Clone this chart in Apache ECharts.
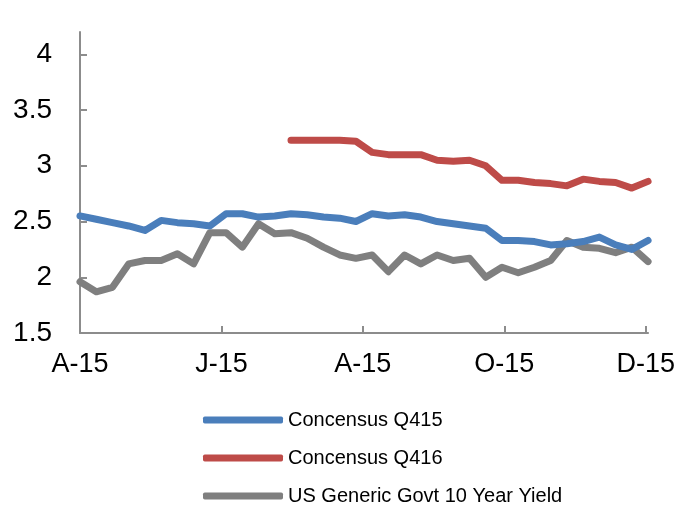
<!DOCTYPE html>
<html>
<head>
<meta charset="utf-8">
<script src="https://cdn.jsdelivr.net/npm/echarts@6/dist/echarts.min.js"></script>
<style>html,body{margin:0;padding:0;background:#fff;}#c{width:678px;height:509px;}</style>
</head>
<body>
<div id="c"></div>
<script>
// Weekly observation dates
const dates = ['2015-04-01','2015-04-08','2015-04-15','2015-04-22','2015-04-29',
  '2015-05-06','2015-05-13','2015-05-20','2015-05-27',
  '2015-06-03','2015-06-10','2015-06-17','2015-06-24',
  '2015-07-01','2015-07-08','2015-07-15','2015-07-22','2015-07-29',
  '2015-08-05','2015-08-12','2015-08-19','2015-08-26',
  '2015-09-02','2015-09-09','2015-09-16','2015-09-23','2015-09-30',
  '2015-10-07','2015-10-14','2015-10-21','2015-10-28',
  '2015-11-04','2015-11-11','2015-11-18','2015-11-25','2015-12-02'];

const consensusQ415 = [2.55,2.52,2.49,2.46,2.42,2.51,2.49,2.48,2.46,2.57,2.57,2.54,2.55,2.57,2.56,2.54,2.53,2.50,
  2.57,2.55,2.56,2.54,2.50,2.48,2.46,2.44,2.33,2.33,2.32,2.29,2.30,2.32,2.36,2.29,2.25,2.33];

const consensusQ416 = [null,null,null,null,null,null,null,null,null,null,null,null,null,
  3.23,3.23,3.23,3.23,3.22,3.12,3.10,3.10,3.10,3.05,3.04,3.05,3.00,2.87,2.87,2.85,2.84,2.82,2.88,2.86,2.85,2.80,2.86];

const usGovt10Y = [1.96,1.87,1.91,2.12,2.15,2.15,2.21,2.12,2.40,2.40,2.27,2.48,2.39,2.40,2.35,2.27,2.20,2.17,
  2.20,2.05,2.20,2.12,2.20,2.15,2.17,2.00,2.09,2.04,2.09,2.15,2.33,2.27,2.26,2.22,2.27,2.14];

const seriesNames = ['Concensus Q415','Concensus Q416','US Generic Govt 10 Year Yield'];
const seriesColors = ['#4a7ebb','#be4b48','#7f7f7f'];

const tickDates = ['2015-04-01','2015-06-01','2015-08-01','2015-10-01','2015-12-01'];
const tickLabels = ['A-15','J-15','A-15','O-15','D-15'];
const yTicks = [1.5,2,2.5,3,3.5,4];

function ts(s){ const p = s.split('-').map(Number); return new Date(p[0], p[1]-1, p[2]).getTime(); }
const tickTs = tickDates.map(ts);
function pairs(vals){ return dates.map((d,i)=>[ts(d), vals[i]]); }

const FONT = 'Liberation Sans';
const chart = echarts.init(document.getElementById('c'), null, {renderer:'canvas'});
const axisColor = '#8c8c8c';
chart.setOption({
  animation:false,
  backgroundColor:'#fff',
  grid:{left:80, right:26, top:32, bottom:176, containLabel:false},
  xAxis:{
    type:'value', min:ts(dates[0]), max:ts(dates[dates.length-1]),
    axisLine:{lineStyle:{color:axisColor, width:2}},
    axisTick:{show:true, inside:true, length:7, customValues:tickTs, lineStyle:{color:axisColor, width:2}},
    axisLabel:{customValues:tickTs, margin:18, fontFamily:FONT, fontSize:27, color:'#000',
      formatter:function(v){ const i = tickTs.indexOf(v); return i>=0 ? tickLabels[i] : ''; }},
    splitLine:{show:false}
  },
  yAxis:{
    type:'value', min:1.5, max:4.2,
    axisLine:{show:true, lineStyle:{color:axisColor, width:2}},
    axisTick:{show:true, inside:true, length:7, customValues:yTicks, lineStyle:{color:axisColor, width:2}},
    axisLabel:{customValues:yTicks, margin:28, fontFamily:FONT, fontSize:28, color:'#000'},
    splitLine:{show:false}
  },
  legend:{
    orient:'vertical', left:203, top:410, height:99, padding:0, itemWidth:80, itemHeight:7, itemGap:18,
    icon:'roundRect',
    textStyle:{fontFamily:FONT, fontSize:20, color:'#000'},
    data:seriesNames
  },
  series:[consensusQ415, consensusQ416, usGovt10Y].map((vals,i)=>({
    name:seriesNames[i], type:'line', data:pairs(vals), symbol:'none',
    lineStyle:{color:seriesColors[i], width:7, cap:'round', join:'round'},
    itemStyle:{color:seriesColors[i]},
    z: i===2 ? 1 : 2
  }))
});
</script>
</body>
</html>
